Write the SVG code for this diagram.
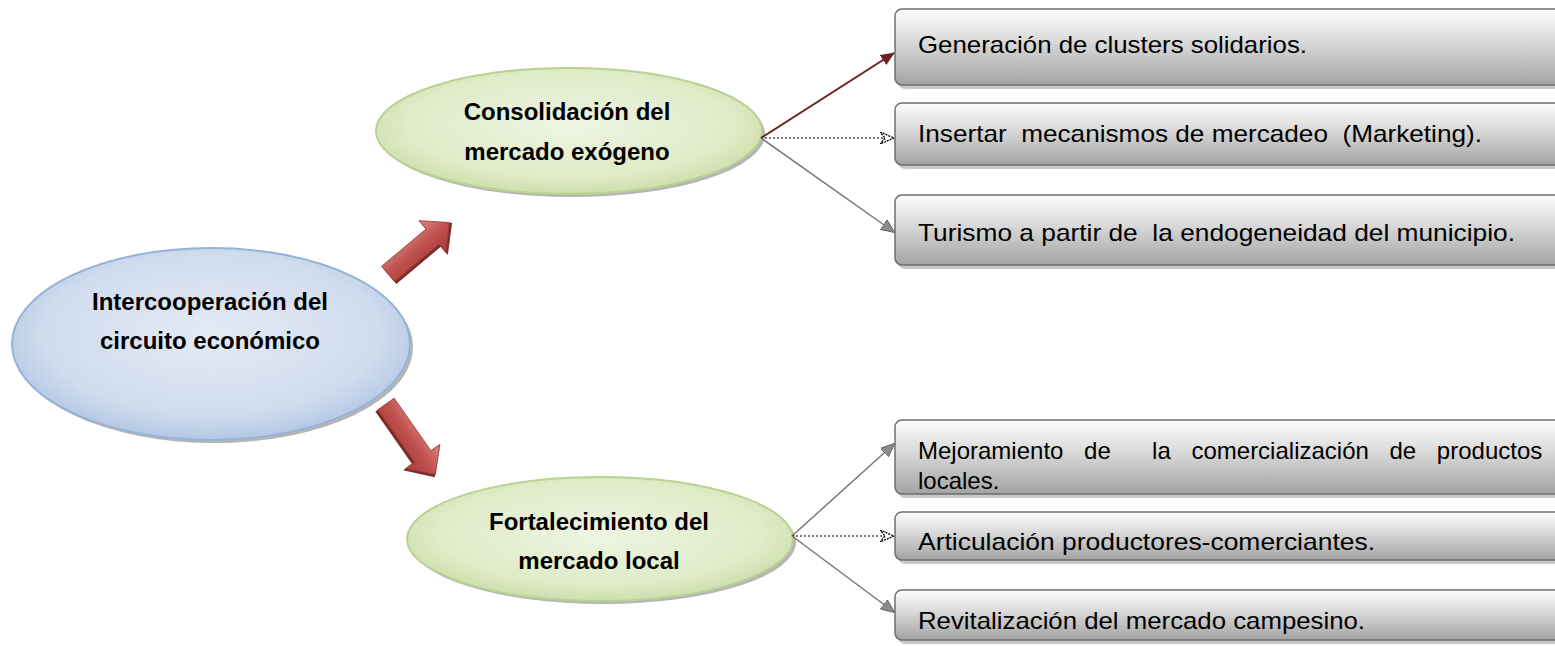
<svg xmlns="http://www.w3.org/2000/svg" width="1555" height="646" viewBox="0 0 1555 646">
<defs>
<radialGradient id="gBlue" cx="0.5" cy="0.45" r="0.6">
<stop offset="0" stop-color="#e3eaf4"/><stop offset="0.7" stop-color="#d0dcee"/><stop offset="1" stop-color="#a9c0e0"/>
</radialGradient>
<radialGradient id="gGreen" cx="0.5" cy="0.45" r="0.6">
<stop offset="0" stop-color="#eef4e2"/><stop offset="0.7" stop-color="#e0ebc8"/><stop offset="1" stop-color="#c6da9f"/>
</radialGradient>
<linearGradient id="gBox" x1="0" y1="0" x2="0" y2="1">
<stop offset="0" stop-color="#fdfdfd"/><stop offset="0.4" stop-color="#dcdcdc"/><stop offset="1" stop-color="#a3a3a3"/>
</linearGradient>
<linearGradient id="gRed" x1="0" y1="0" x2="0" y2="1">
<stop offset="0" stop-color="#d98a88"/><stop offset="0.5" stop-color="#c0504d"/><stop offset="1" stop-color="#a53c3a"/>
</linearGradient>
<marker id="mRed" markerWidth="14" markerHeight="12" refX="13" refY="6" orient="auto" markerUnits="userSpaceOnUse">
<path d="M0,0 L14,6 L0,12 Z" fill="#6b2221"/>
</marker>
<marker id="mGray" markerWidth="14" markerHeight="12" refX="13" refY="6" orient="auto" markerUnits="userSpaceOnUse">
<path d="M0,0 L14,6 L0,12 Z" fill="#8c8c8c" stroke="#555" stroke-width="0.8"/>
</marker>
<marker id="mDot" markerWidth="14" markerHeight="12" refX="13" refY="6" orient="auto" markerUnits="userSpaceOnUse">
<path d="M0,0 L14,6 L0,12 L5,6 Z" fill="#fff" stroke="#000" stroke-width="1.3" stroke-dasharray="2,1"/>
</marker>
</defs>
<style>
.ell-txt{font-family:"Liberation Sans",Arial,sans-serif;font-weight:bold;font-size:24px;fill:#000;text-anchor:middle}
.box-txt{font-family:"Liberation Sans",Arial,sans-serif;font-size:24px;fill:#000}
.box{fill:url(#gBox);stroke:#6e6e6e;stroke-width:1.5}
.shadow{fill:#c8c8c8}
.eshadow{fill:#b5b5b5}
</style>

<g id="n-main">
<ellipse class="eshadow" cx="214" cy="347" rx="199" ry="96"/>
<ellipse cx="211" cy="344" rx="199" ry="96" fill="url(#gBlue)" stroke="#95b3d7" stroke-width="2"/>
<text class="ell-txt" x="210" y="310">Intercooperación del</text>
<text class="ell-txt" x="210" y="349">circuito económico</text>
</g>

<g id="n-exo">
<ellipse class="eshadow" cx="572" cy="134" rx="193" ry="63"/>
<ellipse cx="569" cy="131" rx="193" ry="63" fill="url(#gGreen)" stroke="#b9d192" stroke-width="2"/>
<text class="ell-txt" x="567" y="120">Consolidación del</text>
<text class="ell-txt" x="567" y="160">mercado exógeno</text>
</g>

<g id="n-local">
<ellipse class="eshadow" cx="603" cy="542" rx="193" ry="62"/>
<ellipse cx="600" cy="539" rx="193" ry="62" fill="url(#gGreen)" stroke="#b9d192" stroke-width="2"/>
<text class="ell-txt" x="599" y="530">Fortalecimiento del</text>
<text class="ell-txt" x="599" y="569">mercado local</text>
</g>

<g id="block-arrows">
<g transform="translate(388,274) rotate(-40)">
<path d="M0,-9 L58,-9 L58,-20 L82,2 L58,24 L58,13 L0,13 Z" fill="#7d2a28"/>
<path d="M0,-10 L58,-10 L58,-21 L80,0 L58,21 L58,10 L0,10 Z" fill="url(#gRed)" stroke="#9e3a38" stroke-width="0.8"/>
</g>
<g transform="translate(386,404) rotate(55)">
<path d="M0,-9 L64,-9 L64,-20 L88,2 L64,24 L64,13 L0,13 Z" fill="#7d2a28"/>
<path d="M0,-10 L64,-10 L64,-21 L86,0 L64,21 L64,10 L0,10 Z" fill="url(#gRed)" stroke="#9e3a38" stroke-width="0.8"/>
</g>
</g>

<g id="connectors">
<line x1="761" y1="138" x2="894" y2="53" stroke="#6b2221" stroke-width="2" marker-end="url(#mRed)"/>
<line x1="761" y1="138" x2="893" y2="138" stroke="#000" stroke-width="1.2" stroke-dasharray="2,2" marker-end="url(#mDot)"/>
<line x1="761" y1="138" x2="894" y2="232" stroke="#777" stroke-width="1.5" marker-end="url(#mGray)"/>
<line x1="792" y1="536" x2="894" y2="444" stroke="#777" stroke-width="1.5" marker-end="url(#mGray)"/>
<line x1="792" y1="536" x2="893" y2="536" stroke="#000" stroke-width="1.2" stroke-dasharray="2,2" marker-end="url(#mDot)"/>
<line x1="792" y1="536" x2="894" y2="612" stroke="#777" stroke-width="1.5" marker-end="url(#mGray)"/>
</g>

<g id="b1">
<rect class="shadow" x="898" y="13" width="670" height="76" rx="7"/>
<rect class="box" x="895" y="9" width="670" height="76" rx="7"/>
<text class="box-txt" x="918" y="53" textLength="389" lengthAdjust="spacingAndGlyphs">Generación de clusters solidarios.</text>
</g>
<g id="b2">
<rect class="shadow" x="898" y="107" width="670" height="62" rx="7"/>
<rect class="box" x="895" y="103" width="670" height="62" rx="7"/>
<text class="box-txt" x="918" y="142" textLength="564" lengthAdjust="spacingAndGlyphs" xml:space="preserve">Insertar  mecanismos de mercadeo  (Marketing).</text>
</g>
<g id="b3">
<rect class="shadow" x="898" y="199" width="670" height="70" rx="7"/>
<rect class="box" x="895" y="195" width="670" height="70" rx="7"/>
<text class="box-txt" x="918" y="241" textLength="597" lengthAdjust="spacingAndGlyphs" xml:space="preserve">Turismo a partir de  la endogeneidad del municipio.</text>
</g>
<g id="b4">
<rect class="shadow" x="898" y="424" width="670" height="74" rx="7"/>
<rect class="box" x="895" y="420" width="670" height="74" rx="7"/>
<text class="box-txt" x="918" y="459" xml:space="preserve" style="word-spacing:14px">Mejoramiento de  la comercialización de productos</text>
<text class="box-txt" x="918" y="489">locales.</text>
</g>
<g id="b5">
<rect class="shadow" x="898" y="516" width="670" height="48" rx="7"/>
<rect class="box" x="895" y="512" width="670" height="48" rx="7"/>
<text class="box-txt" x="918" y="550" textLength="457" lengthAdjust="spacingAndGlyphs">Articulación productores-comerciantes.</text>
</g>
<g id="b6">
<rect class="shadow" x="898" y="594" width="670" height="50" rx="7"/>
<rect class="box" x="895" y="590" width="670" height="50" rx="7"/>
<text class="box-txt" x="918" y="629" textLength="447" lengthAdjust="spacingAndGlyphs">Revitalización del mercado campesino.</text>
</g>
</svg>
